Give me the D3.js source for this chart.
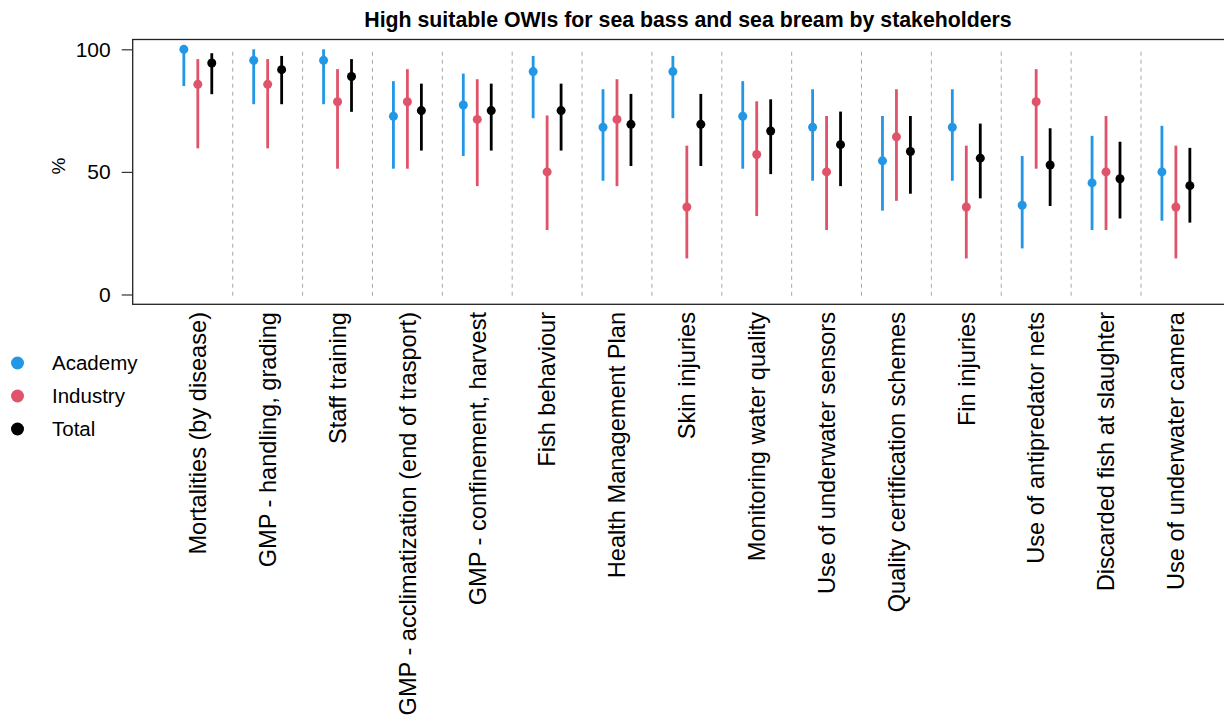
<!DOCTYPE html>
<html>
<head>
<meta charset="utf-8">
<script src="https://cdn.jsdelivr.net/npm/d3@7"></script>
<style>
  body { margin: 0; background: #fff; }
  svg { font-family: "Liberation Sans", Arial, sans-serif; display: block; }
</style>
</head>
<body>
<div id="chart"></div>
<script>
// Data
const categories = [
    'Mortalities (by disease)',
    'GMP - handling, grading',
    'Staff training',
    'GMP - acclimatization (end of trasport)',
    'GMP - confinement, harvest',
    'Fish behaviour',
    'Health Management Plan',
    'Skin injuries',
    'Monitoring water quality',
    'Use of underwater sensors',
    'Quality certification schemes',
    'Fin injuries',
    'Use of antipredator nets',
    'Discarded fish at slaughter',
    'Use of underwater camera'
];

const academy   = [100, 95.5, 95.5, 72.7, 77.3, 90.9, 68.2, 90.9, 72.7, 68.2, 54.5, 68.2, 36.4, 45.5, 50];
const academyLo = [85, 77.6, 77.6, 51.3, 56.5, 71.9, 46.4, 71.9, 51.3, 46.4, 34.2, 46.4, 18.8, 26.3, 30.1];
const academyHi = [100, 100, 100, 87, 90.1, 97.3, 83.7, 97.3, 87, 83.7, 72.8, 83.7, 56.5, 64.7, 68.8];

const industry   = [85.7, 85.7, 78.6, 78.6, 71.4, 50, 71.4, 35.7, 57.1, 50, 64.3, 35.7, 78.6, 50, 35.7];
const industryLo = [59.6, 59.6, 51.3, 51.3, 44.2, 26.3, 44.2, 14.7, 32, 26.3, 38.2, 14.7, 51.3, 26.3, 14.7];
const industryHi = [96, 96, 91.9, 91.9, 87.8, 73, 87.8, 60.7, 78.8, 72.8, 83.7, 60.7, 91.9, 72.8, 60.7];

const total   = [94.4, 91.7, 88.9, 75, 75, 75, 69.4, 69.4, 66.7, 61.1, 58.3, 55.6, 52.8, 47.2, 44.4];
const totalLo = [81.7, 77.6, 74.5, 58.7, 58.7, 58.7, 52.4, 52.4, 49.1, 44.2, 41.1, 39.2, 36.1, 31, 29.3];
const totalHi = [98.4, 97.3, 96, 86, 86, 86, 81.8, 81.8, 79.6, 74.6, 72.8, 69.7, 67.8, 62.3, 59.8];

const groups = ['Academy', 'Industry', 'Total'];
const groupColors = ['#2297E6', '#DF536B', '#000000'];
const groupOffsets = [-0.2, 0, 0.2];
const yTicks = [0, 50, 100];

const title = 'High suitable OWIs for sea bass and sea bream by stakeholders';

// Layout
const width = 1224, height = 722;
const plot = { left: 132.7, right: 1241, top: 39.5, bottom: 304.3 };

const svg = d3.select('#chart')
    .append('svg')
    .attr('width', width)
    .attr('height', height);

svg.append('rect')
    .attr('width', width)
    .attr('height', height)
    .attr('fill', '#fff');

// Scales
const x = d3.scaleLinear()
    .domain([1 - 0.932, categories.length + 0.932])
    .range([plot.left, plot.right]);

const y = d3.scaleLinear()
    .domain([-4, 104])
    .range([plot.bottom, plot.top]);

// Separators between categories
svg.append('g')
    .selectAll('line')
    .data(d3.range(1, categories.length))
    .join('line')
    .attr('x1', d => x(d + 0.5))
    .attr('x2', d => x(d + 0.5))
    .attr('y1', y(99))
    .attr('y2', y(-1))
    .attr('stroke', '#a8a8a8')
    .attr('stroke-width', 1)
    .attr('stroke-dasharray', '4,4');

// Build series
const series = [
    { values: academy, lo: academyLo, hi: academyHi },
    { values: industry, lo: industryLo, hi: industryHi },
    { values: total, lo: totalLo, hi: totalHi }
].map((s, gi) => categories.map((c, i) => ({
    cat: i + 1,
    group: gi,
    v: s.values[i],
    lo: s.lo[i],
    hi: s.hi[i]
})));

const marks = svg.append('g');
series.forEach((pts, gi) => {
    const g = marks.append('g');
    g.selectAll('line')
        .data(pts)
        .join('line')
        .attr('x1', d => x(d.cat + groupOffsets[gi]))
        .attr('x2', d => x(d.cat + groupOffsets[gi]))
        .attr('y1', d => y(d.lo))
        .attr('y2', d => y(d.hi))
        .attr('stroke', groupColors[gi])
        .attr('stroke-width', 2.8);
    g.selectAll('circle')
        .data(pts)
        .join('circle')
        .attr('cx', d => x(d.cat + groupOffsets[gi]))
        .attr('cy', d => y(d.v))
        .attr('r', 4.5)
        .attr('fill', groupColors[gi]);
});

// Plot box
svg.append('rect')
    .attr('x', plot.left)
    .attr('y', plot.top)
    .attr('width', plot.right - plot.left)
    .attr('height', plot.bottom - plot.top)
    .attr('fill', 'none')
    .attr('stroke', '#222')
    .attr('stroke-width', 1.3);

// Y axis
const yAxis = svg.append('g')
    .attr('transform', `translate(${plot.left},0)`)
    .call(d3.axisLeft(y).tickValues(yTicks).tickSize(11).tickPadding(11));
yAxis.select('.domain').remove();
yAxis.selectAll('.tick line').attr('stroke', '#333').attr('stroke-width', 1.2);
yAxis.selectAll('.tick text')
    .attr('font-size', '21px')
    .attr('font-family', '"Liberation Sans", Arial, sans-serif')
    .attr('fill', '#000');

svg.append('text')
    .attr('transform', `translate(58,166) rotate(-90)`)
    .attr('text-anchor', 'middle')
    .attr('dy', '0.35em')
    .attr('font-size', '19px')
    .text('%');

// Category labels
svg.append('g')
    .selectAll('text')
    .data(categories)
    .join('text')
    .attr('transform', (d, i) => `translate(${x(i + 1)},312) rotate(-90)`)
    .attr('text-anchor', 'end')
    .attr('dy', '0.35em')
    .attr('font-size', '23.6px')
    .text(d => d);

// Title
svg.append('text')
    .attr('x', 688)
    .attr('y', 27)
    .attr('text-anchor', 'middle')
    .attr('font-weight', 'bold')
    .attr('font-size', '21.3px')
    .text(title);

// Legend
const legend = svg.append('g')
    .selectAll('g')
    .data(groups)
    .join('g')
    .attr('transform', (d, i) => `translate(0,${363 + i * 33})`);
legend.append('circle')
    .attr('cx', 17.5)
    .attr('cy', 0)
    .attr('r', 6.5)
    .attr('fill', (d, i) => groupColors[i]);
legend.append('text')
    .attr('x', 52)
    .attr('dy', '0.35em')
    .attr('font-size', '20.5px')
    .text(d => d);
</script>
</body>
</html>
